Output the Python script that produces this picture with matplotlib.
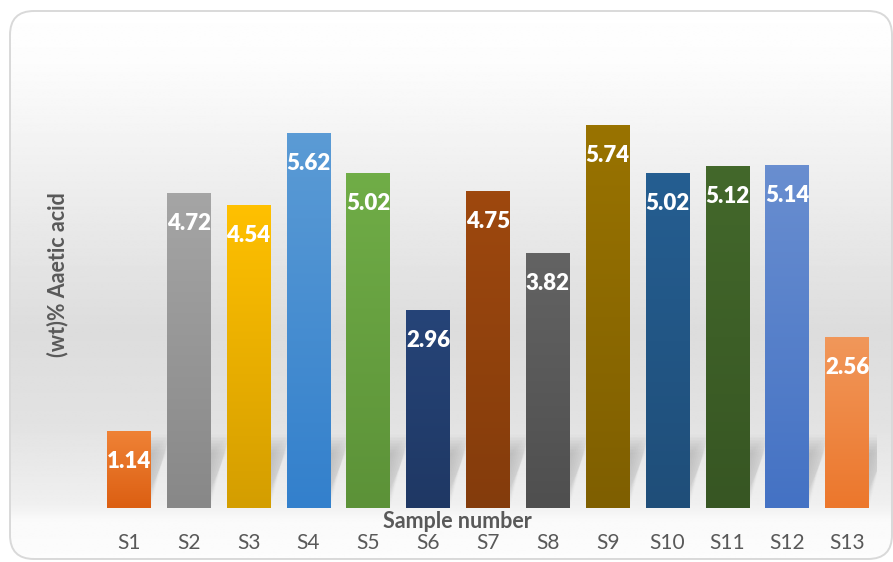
import numpy as np
import matplotlib
matplotlib.use('Agg')
import matplotlib.pyplot as plt
from matplotlib.colors import LinearSegmentedColormap
from matplotlib.patches import FancyBboxPatch, Polygon

plt.rcParams['font.family'] = ['Lato', 'DejaVu Sans']

# Data
samples = ['S1', 'S2', 'S3', 'S4', 'S5', 'S6', 'S7', 'S8', 'S9', 'S10', 'S11', 'S12', 'S13']
acid = [1.14, 4.72, 4.54, 5.62, 5.02, 2.96, 4.75, 3.82, 5.74, 5.02, 5.12, 5.14, 2.56]
top_colors = ['#EF8236', '#A5A5A5', '#FFC000', '#5B9BD5', '#70AD47', '#264478', '#9E480E',
              '#636363', '#997300', '#255E91', '#43682B', '#698ED0', '#F1975A']
bottom_colors = ['#DC5F12', '#888888', '#D49E00', '#3380CC', '#5C9238', '#1F3864', '#843C0C',
                 '#4F4F4F', '#7F5F00', '#1F4E79', '#375623', '#4472C4', '#EC772C']

text_gray = '#595959'

fig = plt.figure(figsize=(8.93, 5.62), dpi=100)

# background panel with rounded border and vertical gradient
bg = fig.add_axes([0, 0, 1, 1], zorder=-2)
bg.set_xlim(0, 893)
bg.set_ylim(562, 0)
bg.axis('off')
ys = np.linspace(0, 562, 400)
stops_y = [0, 60, 200, 330, 420, 505, 520, 562]
stops_v = [1.0, 0.99, 0.925, 0.865, 0.885, 0.94, 0.98, 0.99]
shade = np.interp(ys, stops_y, stops_v)
grad = np.repeat(shade[:, None], 2, axis=1)
frame = FancyBboxPatch((10, 11), 882, 548, boxstyle='round,pad=0,rounding_size=24',
                       facecolor='none', edgecolor='#d9d9d9', linewidth=1.4, zorder=3)
bg.add_patch(frame)
im = bg.imshow(grad, cmap='gray', vmin=0, vmax=1, extent=(10, 892, 562, 0),
               aspect='auto', interpolation='bilinear', zorder=1)
im.set_clip_path(frame)

ax = fig.add_axes([99 / 893, 1 - 508 / 562, (877 - 99) / 893, (508 - 61) / 562])
ax.patch.set_alpha(0)
x = np.arange(len(samples))
width = 0.73

bars = ax.bar(x, acid, width, color=top_colors, zorder=3)

# soft shadows behind the bars
for b in bars:
    x0 = b.get_x()
    x1 = x0 + b.get_width()
    hs = min(b.get_height(), 1.1)
    for k in range(13):
        j = abs(k - 6)
        d = 0.3 + 0.02 * (k - 6)
        sx = 0.025 * j
        sy = 0.045 * j
        poly = Polygon([(x0 + sx, 0), (x1 - sx, 0), (x1 + d - sx, hs - sy),
                        (x0 + d + sx, hs - sy)], closed=True, facecolor='#707070',
                       edgecolor='none', alpha=0.028, zorder=1)
        ax.add_patch(poly)

# gradient fill of each bar
for b, c_top, c_bot in zip(bars, top_colors, bottom_colors):
    cmap = LinearSegmentedColormap.from_list('g', [c_bot, c_top])
    g = np.linspace(0, 1, 100)[:, None]
    ax.imshow(g, cmap=cmap, origin='lower', aspect='auto', interpolation='bilinear',
              extent=(b.get_x(), b.get_x() + b.get_width(), 0, b.get_height()), zorder=4)

for xi, v in zip(x, acid):
    ax.annotate(f'{v:.2f}', xy=(xi, v), xytext=(0, -30), textcoords='offset pixels',
                ha='center', va='center', color='white', fontsize=16, fontweight='heavy',
                zorder=6)

ax.set_xlim(-0.5, len(samples) - 0.5)
ax.set_ylim(0, 6.7)
ax.set_xticks(x)
ax.set_xticklabels(samples, fontsize=15, color=text_gray)
ax.tick_params(axis='x', length=0, pad=18)
ax.set_yticks([])
for s in ax.spines.values():
    s.set_visible(False)

fig.text(457 / 893, 1 - 522 / 562, 'Sample number', ha='center', va='center',
         fontsize=15.5, fontweight='bold', color=text_gray)
fig.text(58 / 893, 1 - 275 / 562, '(wt)% Aaetic acid', ha='center', va='center',
         rotation=90, fontsize=15.5, fontweight='bold', color=text_gray)

plt.savefig('out.png', dpi=100)
